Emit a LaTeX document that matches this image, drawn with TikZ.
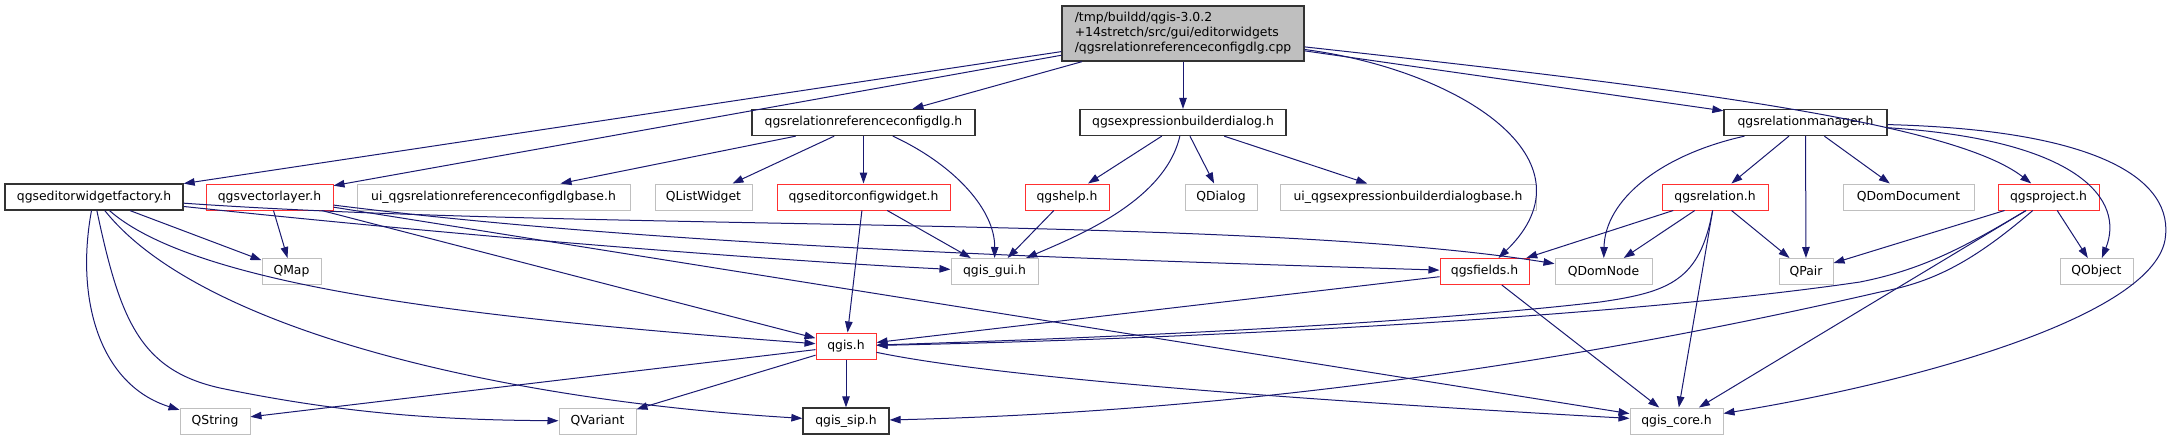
\documentclass[tikz,border=0pt]{standalone}
\usepackage{fontspec}
\setmainfont{DejaVu Sans}
\usetikzlibrary{arrows.meta}
\definecolor{inclblue}{HTML}{191970}
\definecolor{extgray}{HTML}{BFBFBF}
\definecolor{truncred}{HTML}{FF3030}
\tikzset{
  header/.style={
    rectangle,
    inner sep=0pt,
    minimum height=26pt,
    line width=1pt,
    font=\fontsize{12.4}{15}\selectfont
  },
  doc box/.style={
    header,
    draw=black!80,
    line width=1.3pt
  },
  trunc box/.style={
    header,
    draw=truncred
  },
  ext box/.style={
    header,
    draw=extgray
  },
  incl/.style={
    -{Triangle[length=11pt,width=7.5pt]},
    line width=1pt,
    color=inclblue
  }
}

\begin{document}
\begin{tikzpicture}[x=1pt, y=-1pt]
    \useasboundingbox (0,0) rectangle (2169,440);

    % 根文件
    \node[doc box, fill=extgray, minimum width=242pt, minimum height=55pt, align=left] (Root) at (1183,33.5)
      {/tmp/buildd/qgis-3.0.2\\+14stretch/src/gui/editorwidgets\\/qgsrelationreferenceconfigdlg.cpp};

    % 第二层
    \node[doc box, minimum width=223pt] (RelRefDlg) at (863.5,122.5) {qgsrelationreferenceconfigdlg.h};
    \node[doc box, minimum width=206pt] (ExprDlg) at (1183,122.5) {qgsexpressionbuilderdialog.h};
    \node[doc box, minimum width=163pt] (RelMgr) at (1805.5,122.5) {qgsrelationmanager.h};

    % 第三层
    \node[doc box, minimum width=178pt] (Factory) at (94,197) {qgseditorwidgetfactory.h};
    \node[trunc box, minimum width=127pt] (VLayer) at (269.5,197) {qgsvectorlayer.h};
    \node[ext box, minimum width=273pt] (UiRelRef) at (493.5,197) {ui\_qgsrelationreferenceconfigdlgbase.h};
    \node[ext box, minimum width=97pt] (QListWidget) at (703.5,197) {QListWidget};
    \node[trunc box, minimum width=173pt] (EdConfig) at (863.5,197) {qgseditorconfigwidget.h};
    \node[trunc box, minimum width=84pt] (Help) at (1067,197) {qgshelp.h};
    \node[ext box, minimum width=72pt] (QDialog) at (1221,197) {QDialog};
    \node[ext box, minimum width=256pt] (UiExpr) at (1408,197) {ui\_qgsexpressionbuilderdialogbase.h};
    \node[trunc box, minimum width=106pt] (Relation) at (1715,197) {qgsrelation.h};
    \node[ext box, minimum width=131pt] (QDomDocument) at (1908.5,197) {QDomDocument};
    \node[trunc box, minimum width=101pt] (Project) at (2048.5,197) {qgsproject.h};

    % 第四层
    \node[ext box, minimum width=59pt] (QMap) at (291.5,271.5) {QMap};
    \node[ext box, minimum width=87pt] (GisGui) at (994.5,271.5) {qgis\_gui.h};
    \node[trunc box, minimum width=89pt] (Fields) at (1484.5,271.5) {qgsfields.h};
    \node[ext box, minimum width=97pt] (QDomNode) at (1603.5,271.5) {QDomNode};
    \node[ext box, minimum width=54pt] (QPair) at (1806,271.5) {QPair};
    \node[ext box, minimum width=73pt] (QObject) at (2096.5,271.5) {QObject};

    \node[trunc box, minimum width=60pt] (Gis) at (846,346) {qgis.h};

    % 最底层
    \node[ext box, minimum width=70pt] (QString) at (215,421) {QString};
    \node[ext box, minimum width=77pt] (QVariant) at (597.5,421) {QVariant};
    \node[doc box, minimum width=86pt] (GisSip) at (846,421) {qgis\_sip.h};
    \node[ext box, minimum width=93pt] (GisCore) at (1676.5,421) {qgis\_core.h};

    % 根文件的包含
    \draw[incl] (Root) -- (Factory);
    \draw[incl] (Root) -- (VLayer);
    \draw[incl] (Root) -- (RelRefDlg);
    \draw[incl] (Root) -- (ExprDlg);
    \draw[incl] (Root) -- (RelMgr);
    \draw[incl] (Root) .. controls (1460,70) and (1600,160) .. (Fields);
    \draw[incl] (Root) .. controls (1650,85) and (1950,120) .. (Project);

    % qgsrelationreferenceconfigdlg.h
    \draw[incl] (RelRefDlg) -- (UiRelRef);
    \draw[incl] (RelRefDlg) -- (QListWidget);
    \draw[incl] (RelRefDlg) -- (EdConfig);
    \draw[incl] (RelRefDlg) .. controls (955,165) and (995,210) .. (GisGui);

    % qgsexpressionbuilderdialog.h
    \draw[incl] (ExprDlg) -- (Help);
    \draw[incl] (ExprDlg) -- (QDialog);
    \draw[incl] (ExprDlg) -- (UiExpr);
    \draw[incl] (ExprDlg) .. controls (1165,200) and (1080,235) .. (GisGui);

    % qgsrelationmanager.h
    \draw[incl] (RelMgr) -- (Relation);
    \draw[incl] (RelMgr) -- (QPair);
    \draw[incl] (RelMgr) -- (QDomDocument);
    \draw[incl] (RelMgr) .. controls (1660,155) and (1605,200) .. (QDomNode);
    \draw[incl] (RelMgr) .. controls (2080,140) and (2125,200) .. (QObject);
    \draw[incl] (RelMgr) .. controls (2100,130) and (2175,180) .. (2165,240)
      .. controls (2150,320) and (1900,385) .. (GisCore);

    % qgseditorwidgetfactory.h
    \draw[incl] (Factory) -- (QMap);
    \draw[incl] (Factory) .. controls (75,300) and (100,385) .. (QString);
    \draw[incl] (Factory) .. controls (120,320) and (140,370) .. (220,388)
      .. controls (350,415) and (450,420) .. (QVariant);
    \draw[incl] (Factory) .. controls (200,330) and (500,400) .. (GisSip);
    \draw[incl] (Factory) .. controls (200,290) and (500,320) .. (Gis);
    \draw[incl] (Factory) .. controls (500,240) and (800,262) .. (GisGui);
    \draw[incl] (Factory) .. controls (600,232) and (1250,215) .. (QDomNode);

    % qgsvectorlayer.h
    \draw[incl] (VLayer) -- (QMap);
    \draw[incl] (VLayer) -- (Gis);
    \draw[incl] (VLayer) -- (GisCore);
    \draw[incl] (VLayer) .. controls (650,245) and (1050,258) .. (Fields);

    % 其余
    \draw[incl] (EdConfig) -- (GisGui);
    \draw[incl] (EdConfig) -- (Gis);
    \draw[incl] (Help) -- (GisGui);

    \draw[incl] (Relation) -- (Fields);
    \draw[incl] (Relation) -- (QDomNode);
    \draw[incl] (Relation) -- (QPair);
    \draw[incl] (Relation) -- (GisCore);
    \draw[incl] (Relation) .. controls (1700,280) and (1670,292) .. (1600,302)
      .. controls (1400,325) and (1100,338) .. (Gis);

    \draw[incl] (Project) -- (QPair);
    \draw[incl] (Project) -- (QObject);
    \draw[incl] (Project) -- (GisCore);
    \draw[incl] (Project) .. controls (1960,250) and (1920,270) .. (1860,282)
      .. controls (1600,320) and (1150,340) .. (Gis);
    \draw[incl] (Project) .. controls (1975,260) and (1935,282) .. (1880,292)
      .. controls (1650,345) and (1300,410) .. (GisSip);

    \draw[incl] (Fields) -- (Gis);
    \draw[incl] (Fields) -- (GisCore);

    \draw[incl] (Gis) -- (QString);
    \draw[incl] (Gis) -- (QVariant);
    \draw[incl] (Gis) -- (GisSip);
    \draw[incl] (Gis) .. controls (1000,378) and (1300,400) .. (GisCore);

\end{tikzpicture}
\end{document}
